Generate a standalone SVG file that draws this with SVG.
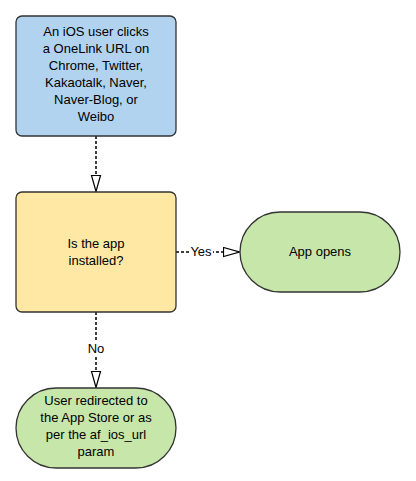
<svg xmlns="http://www.w3.org/2000/svg" width="416" height="481" viewBox="0 0 416 481">
<defs>
<marker id="tri" markerWidth="18" markerHeight="12" refX="17" refY="5.5" orient="auto" markerUnits="userSpaceOnUse">
<path d="M1,1 L17,5.5 L1,10 Z" fill="#fff" stroke="#000" stroke-width="1.2"/>
</marker>
</defs>
<style>
text{font-family:"Liberation Sans",Arial,sans-serif;font-size:13px;fill:#000;text-anchor:middle}
.box{stroke:#333;stroke-width:1.3}
.conn{fill:none;stroke:#000;stroke-width:1.5;stroke-dasharray:3,2;marker-end:url(#tri)}
</style>
<rect width="416" height="481" fill="#fff"/>
<g id="connectors">
<path class="conn" d="M96,136 L96,191.5"/>
<path class="conn" d="M176,252 L239.5,252"/>
<path class="conn" d="M96,312 L96,387.5"/>
<rect x="189" y="243" width="24" height="17" fill="#fff"/>
<text x="201" y="256">Yes</text>
<rect x="86" y="340" width="20" height="17" fill="#fff"/>
<text x="96" y="353">No</text>
</g>
<g id="start">
<rect class="box" x="16" y="16" width="160" height="120" rx="6" fill="#b1d3ef"/>
<text x="96" y="36">An iOS user clicks</text>
<text x="96" y="53">a OneLink URL on</text>
<text x="96" y="70">Chrome, Twitter,</text>
<text x="96" y="87">Kakaotalk, Naver,</text>
<text x="96" y="104">Naver-Blog, or</text>
<text x="96" y="121">Weibo</text>
</g>
<g id="decision">
<rect class="box" x="16" y="192" width="160" height="120" rx="6" fill="#ffe8a3"/>
<text x="96" y="248">Is the app</text>
<text x="96" y="265">installed?</text>
</g>
<g id="opens">
<rect class="box" x="240" y="212" width="160" height="80" rx="40" fill="#c7e6aa"/>
<text x="320" y="256">App opens</text>
</g>
<g id="redirect">
<rect class="box" x="16" y="388" width="160" height="80" rx="40" fill="#c7e6aa"/>
<text x="96" y="405">User redirected to</text>
<text x="96" y="422">the App Store or as</text>
<text x="96" y="439">per the af_ios_url</text>
<text x="96" y="456">param</text>
</g>
</svg>
